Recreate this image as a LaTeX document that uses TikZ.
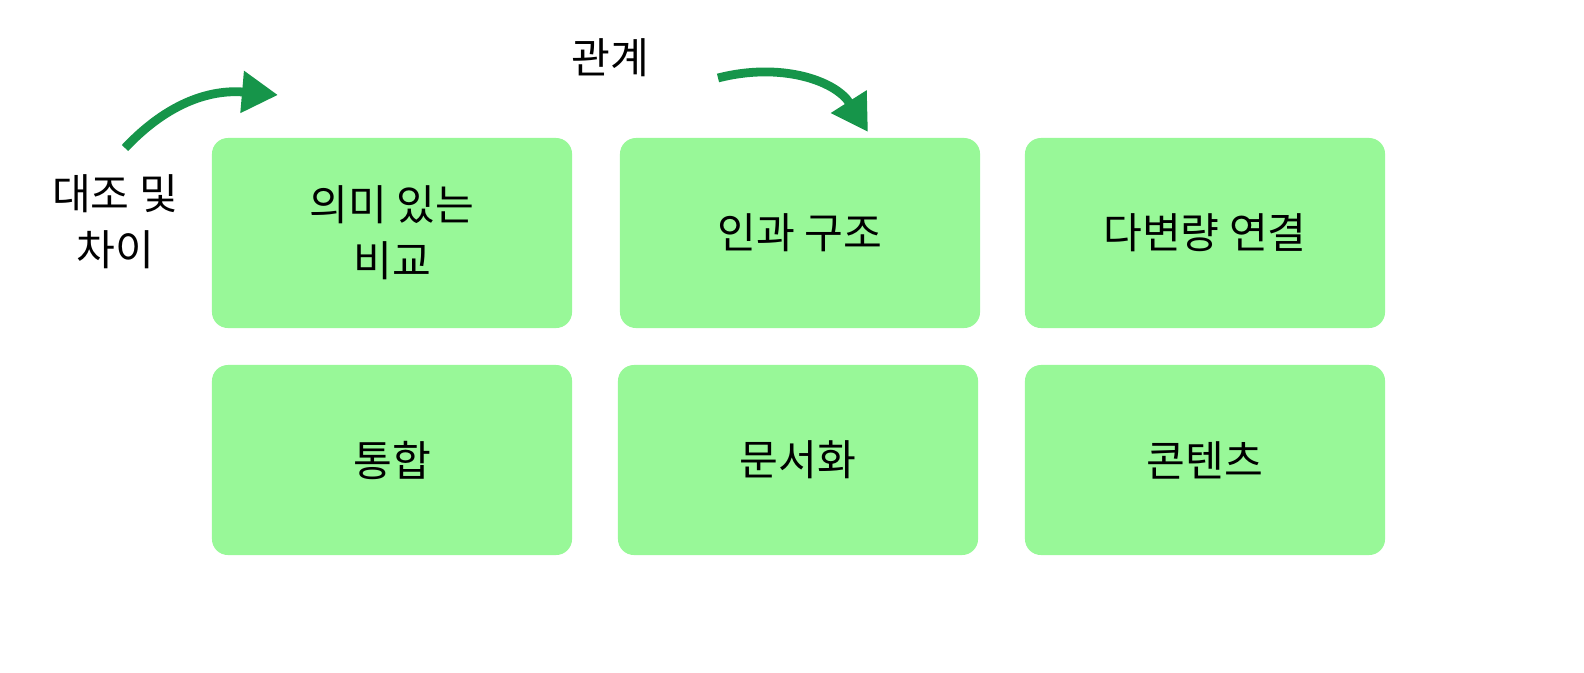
\documentclass[tikz,border=0pt]{standalone}
\usepackage{fontspec}
\setmainfont{Noto Sans CJK KR}
\usetikzlibrary{arrows.meta}
\definecolor{boxgreen}{HTML}{98F898}
\definecolor{arrowgreen}{HTML}{16954A}
\tikzset{
  card/.style={fill=boxgreen, draw=none, rounded corners=0.4cm,
    minimum width=9cm, minimum height=4.75cm, align=center,
    font=\fontsize{30}{40}\selectfont},
  lbl/.style={align=center, font=\fontsize{30}{40}\selectfont},
  curved arrow/.style={-{Triangle[length=0.9cm,width=1.0cm]}, arrowgreen, line width=0.22cm}
}
\begin{document}
\begin{tikzpicture}[x=0.025cm,y=-0.025cm]
\useasboundingbox (0,0) rectangle (1584,672);
% Cards
\node[card] (compare) at (392,233) {의미 있는\\비교};
\node[card] (cause) at (800,233) {인과 구조};
\node[card] (multi) at (1205,233) {다변량 연결};
\node[card] (integ) at (392,460) {통합};
\node[card] (doc) at (798,460) {문서화};
\node[card] (content) at (1205,460) {콘텐츠};
% Labels
\node[lbl] (contrast) at (115,222) {대조 및\\차이};
\node[lbl] (relation) at (610,58) {관계};
% Arrows
\coordinate (a1s) at (125,148);
\coordinate (a1e) at (278,95);
\coordinate (a2s) at (718,78);
\coordinate (a2e) at (868,132);
\draw[curved arrow] (a1s) .. controls (175,95) and (220,90) .. (a1e);
\draw[curved arrow] (a2s) .. controls (780,62) and (835,80) .. (a2e);
\end{tikzpicture}
\end{document}
